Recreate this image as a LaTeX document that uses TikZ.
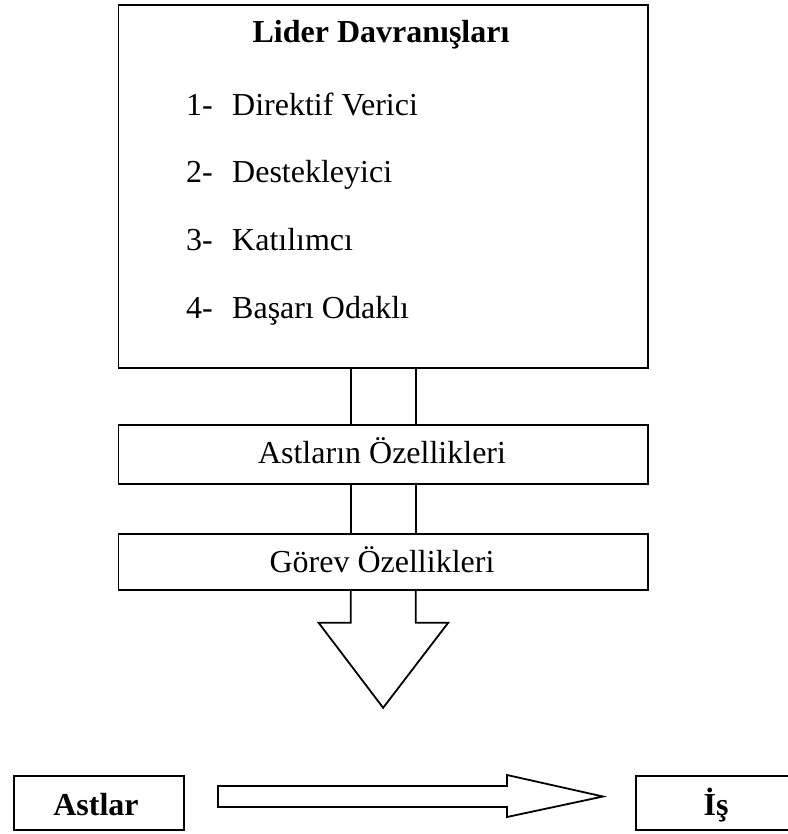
\documentclass[tikz,border=0pt]{standalone}
\usepackage{fontspec}
\setmainfont{Liberation Serif}
\usetikzlibrary{calc}
\begin{document}
\begin{tikzpicture}[x=1pt,y=-1pt,
  frame/.style={draw=black,line width=1.8pt,rectangle,inner sep=0pt,anchor=north west},
  txt/.style={inner sep=0pt,font=\fontsize{32}{38}\selectfont},
  btxt/.style={txt,font=\fontsize{32}{38}\selectfont\bfseries},
  outline/.style={draw=black,line width=1.8pt,line join=miter}]
  \useasboundingbox (0,0) rectangle (787,834);

  % leader behaviour box
  \node[frame,minimum width=529.5pt,minimum height=363pt] (lider) at (117.5,4) {};
  \node[btxt,anchor=base] (title) at (381,43) {Lider Davranışları};
  \node[txt,anchor=base west] (n1) at (186,116) {1-};
  \node[txt,anchor=base west] (t1) at (232,116) {Direktif Verici};
  \node[txt,anchor=base west] (n2) at (186,183) {2-};
  \node[txt,anchor=base west] (t2) at (232,183) {Destekleyici};
  \node[txt,anchor=base west] (n3) at (186,250) {3-};
  \node[txt,anchor=base west] (t3) at (232,250) {Katılımcı};
  \node[txt,anchor=base west] (n4) at (186,318) {4-};
  \node[txt,anchor=base west] (t4) at (232,318) {Başarı Odaklı};

  % moderator boxes
  \node[frame,minimum width=529.5pt,minimum height=59pt] (astoz) at (117.5,424) {};
  \node[txt,anchor=base] (astoztxt) at (382,463) {Astların Özellikleri};
  \node[frame,minimum width=529.5pt,minimum height=56pt] (gorev) at (117.5,533) {};
  \node[txt,anchor=base] (gorevtxt) at (382,572) {Görev Özellikleri};

  % shaft segments between the boxes
  \foreach \dx in {-32.5,32.5}{
    \draw[outline] ([xshift=\dx pt]lider.south) -- ([xshift=\dx pt]astoz.north);
    \draw[outline] ([xshift=\dx pt]astoz.south) -- ([xshift=\dx pt]gorev.north);
  }

  % downward block arrow
  \draw[outline] ([xshift=-32.5pt]gorev.south) -- ++(0,32) -- ++(-32,0)
    -- ($(gorev.south)+(0,117)$) -- ($(gorev.south)+(65,32)$)
    -- ($(gorev.south)+(32.5,32)$) -- ([xshift=32.5pt]gorev.south);

  % bottom row
  \node[frame,minimum width=170pt,minimum height=54pt] (astlar) at (13,775) {};
  \node[btxt,anchor=base] (astlartxt) at (96,815) {Astlar};
  \node[frame,minimum width=162pt,minimum height=54pt] (is) at (635,775) {};
  \node[btxt,anchor=base] (istxt) at (716,815) {İş};

  % horizontal block arrow
  \coordinate (hs) at (218,796.5);
  \coordinate (ht) at (603,796.5);
  \draw[outline] ($(hs)+(0,-10.5)$) -- ($(ht)+(-96,-10.5)$) -- ($(ht)+(-96,-21.5)$)
    -- (ht) -- ($(ht)+(-96,20.5)$) -- ($(ht)+(-96,10.5)$) -- ($(hs)+(0,10.5)$) -- cycle;
\end{tikzpicture}
\end{document}
